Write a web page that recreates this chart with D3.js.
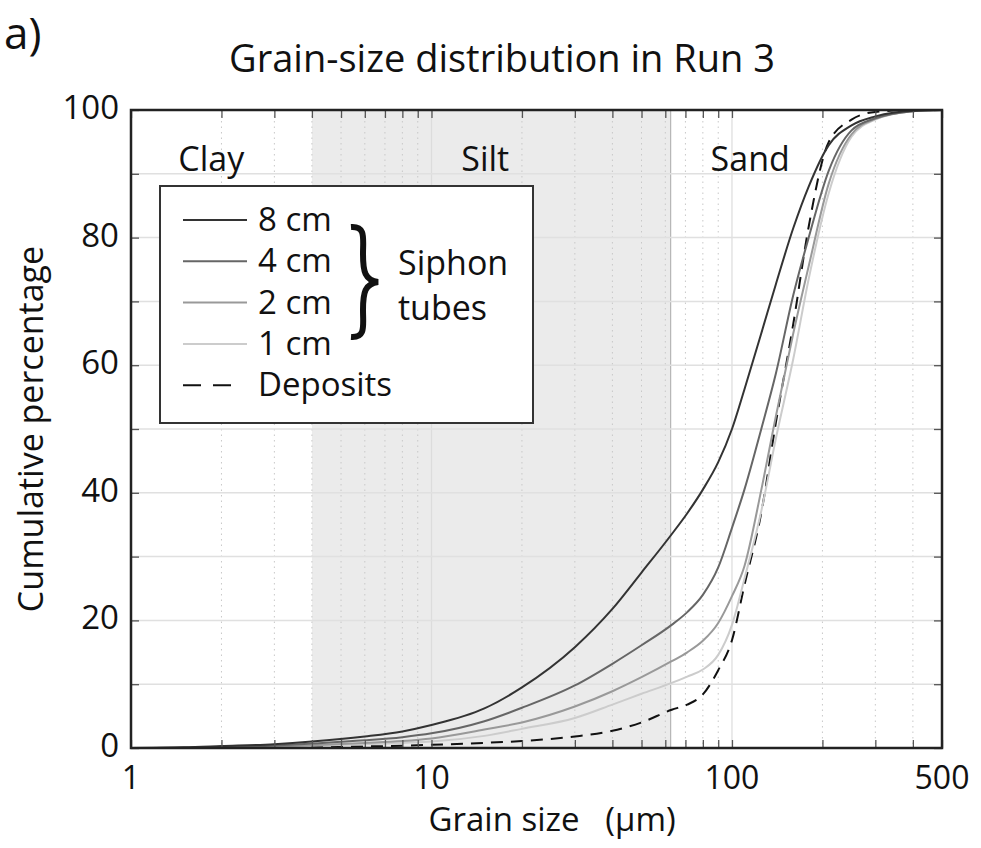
<!DOCTYPE html>
<html>
<head>
<meta charset="utf-8">
<script src="https://cdn.jsdelivr.net/npm/d3@7"></script>
<style>
  body { margin: 0; background: #fff; }
  svg text { font-family: "Open Sans", "Noto Sans", sans-serif; fill: #111; }
</style>
</head>
<body>
<svg id="chart" width="981" height="848"></svg>
<script>
// grain size bins (µm) and cumulative percentages
const sizes    = [1, 1.5, 2, 3, 4, 6, 8, 10, 15, 20, 30, 40, 50, 63, 71, 80, 90, 100, 110, 125, 140, 160, 180, 210, 250, 300, 400, 500];
const tube8cm  = [0, 0.1, 0.3, 0.6, 1.0, 1.8, 2.6, 3.6, 6.2, 9.5, 15.8, 21.8, 27.5, 33.5, 36.8, 40.5, 44.8, 50, 56.2, 64.9, 72.7, 81.5, 88, 94.5, 97.6, 99, 99.9, 100];
const tube4cm  = [0, 0.05, 0.15, 0.4, 0.7, 1.2, 1.7, 2.3, 4.2, 6.3, 9.8, 13.2, 16.1, 19.3, 21.3, 24.0, 28.3, 34.5, 40.5, 49.9, 58.7, 71, 80, 90.5, 96.8, 98.7, 99.8, 100];
const tube2cm  = [0, 0.03, 0.1, 0.25, 0.45, 0.8, 1.1, 1.5, 2.9, 4.0, 6.5, 8.9, 11.1, 13.6, 15.0, 16.8, 19.6, 23.8, 28.5, 40.3, 52, 65, 75.5, 88.5, 96.2, 98.6, 99.8, 100];
const tube1cm  = [0, 0.02, 0.07, 0.2, 0.35, 0.6, 0.8, 1.0, 1.9, 3.0, 4.7, 6.8, 8.5, 10.2, 11.2, 12.3, 14.6, 19.3, 26.5, 37, 48.5, 61, 73.5, 87, 95.8, 98.5, 99.8, 100];
const deposits = [0, 0, 0.05, 0.1, 0.15, 0.25, 0.35, 0.5, 0.8, 1.1, 1.8, 2.7, 4.0, 6.0, 6.8, 8.4, 12.2, 16.9, 25.5, 36.7, 51, 66.5, 81.7, 95, 98.5, 99.7, 100, 100];

const xTickLabels = [1, 10, 100, 500];
const yTickLabels = [0, 20, 40, 60, 80, 100];
const classNames  = ["Clay", "Silt", "Sand"];
const classBounds = [1, 4, 62.5, 500];
const classLabelAt = [1.85, 15.1, 115];
const legendNames = ["8 cm", "4 cm", "2 cm", "1 cm", "Deposits"];

const series = [
  { name: legendNames[0], values: tube8cm,  color: "#333", dash: null },
  { name: legendNames[1], values: tube4cm,  color: "#666", dash: null },
  { name: legendNames[2], values: tube2cm,  color: "#999", dash: null },
  { name: legendNames[3], values: tube1cm,  color: "#ccc", dash: null },
  { name: legendNames[4], values: deposits, color: "#111", dash: "12,8" }
];

let margin = {top: 110, right: 39, bottom: 100, left: 131};
let width = 981 - margin.left - margin.right;
let height = 848 - margin.top - margin.bottom;

let svg = d3.select("#chart");
let g = svg.append("g").attr("transform", `translate(${margin.left},${margin.top})`);

let x = d3.scaleLog().domain([1, 500]).range([0, width]);
let y = d3.scaleLinear().domain([0, 100]).range([height, 0]);

// silt band
g.append("rect")
  .attr("x", x(classBounds[1]))
  .attr("y", 0)
  .attr("width", x(classBounds[2]) - x(classBounds[1]))
  .attr("height", height)
  .attr("fill", "#ebebeb");
g.append("line")
  .attr("x1", x(classBounds[2])).attr("x2", x(classBounds[2]))
  .attr("y1", 0).attr("y2", height)
  .attr("stroke", "#b5b5b5").attr("stroke-width", 1.2);

// grid
let logTicks = [];
[1, 10, 100].forEach(function(dec) {
  for (let k = 1; k <= 9; k++) {
    let v = dec * k;
    if (v <= 500) logTicks.push(v);
  }
});
let minorTicks = logTicks.filter(v => [1, 10, 100].indexOf(v) < 0);

g.append("g").selectAll("line")
  .data(minorTicks)
  .join("line")
  .attr("x1", d => x(d)).attr("x2", d => x(d))
  .attr("y1", 0).attr("y2", height)
  .attr("stroke", "#c8c8c8").attr("stroke-width", 1)
  .attr("stroke-dasharray", "1.5,4");

g.append("g").selectAll("line")
  .data([10, 100])
  .join("line")
  .attr("x1", d => x(d)).attr("x2", d => x(d))
  .attr("y1", 0).attr("y2", height)
  .attr("stroke", "#dcdcdc").attr("stroke-width", 1.2);

g.append("g").selectAll("line")
  .data(d3.range(10, 100, 10))
  .join("line")
  .attr("x1", 0).attr("x2", width)
  .attr("y1", d => y(d)).attr("y2", d => y(d))
  .attr("stroke", "#e0e0e0").attr("stroke-width", 1.5);

// class labels
g.append("g").selectAll("text")
  .data(classNames)
  .join("text")
  .attr("x", (d, i) => x(classLabelAt[i]))
  .attr("y", y(98) + 48)
  .attr("text-anchor", "middle")
  .style("font-size", "34px")
  .text(d => d);

// curves
let line = d3.line()
  .x(function(d) { return x(d[0]); })
  .y(function(d) { return y(d[1]); })
  .curve(d3.curveMonotoneX);

g.append("g").selectAll("path")
  .data(series.slice().reverse())
  .join("path")
  .attr("d", d => line(sizes.map((s, i) => [s, d.values[i]])))
  .attr("fill", "none")
  .attr("stroke", d => d.color)
  .attr("stroke-width", 2)
  .attr("stroke-dasharray", d => d.dash);

// axes: ticks inside on all four sides
let tickLen = 8;
g.append("g").attr("transform", `translate(0,${height})`)
  .call(d3.axisBottom(x).tickValues(logTicks).tickSize(-tickLen).tickFormat(""))
  .call(s => s.select(".domain").remove());
g.append("g")
  .call(d3.axisTop(x).tickValues(logTicks).tickSize(-tickLen).tickFormat(""))
  .call(s => s.select(".domain").remove());
g.append("g")
  .call(d3.axisLeft(y).tickValues(d3.range(0, 101, 10)).tickSize(-tickLen).tickFormat(""))
  .call(s => s.select(".domain").remove());
g.append("g").attr("transform", `translate(${width},0)`)
  .call(d3.axisRight(y).tickValues(d3.range(0, 101, 10)).tickSize(-tickLen).tickFormat(""))
  .call(s => s.select(".domain").remove());
g.selectAll(".tick line").attr("stroke", "#555").attr("stroke-width", 1.3);

g.append("rect")
  .attr("width", width).attr("height", height)
  .attr("fill", "none").attr("stroke", "#222").attr("stroke-width", 2.5);

// tick labels
g.append("g").selectAll("text")
  .data(xTickLabels)
  .join("text")
  .attr("x", d => x(d))
  .attr("y", height + 41)
  .attr("text-anchor", "middle")
  .style("font-size", "32px")
  .text(d => d);

g.append("g").selectAll("text")
  .data(yTickLabels)
  .join("text")
  .attr("x", -12)
  .attr("y", d => y(d) + 9)
  .attr("text-anchor", "end")
  .style("font-size", "33px")
  .text(d => d);

// axis titles
svg.append("text")
  .attr("x", margin.left + x(25.2))
  .attr("y", 831)
  .attr("text-anchor", "middle")
  .style("font-size", "33px")
  .text("Grain size \u00a0 (µm)");

svg.append("text")
  .attr("transform", `translate(43,${margin.top + y(50)}) rotate(-90)`)
  .attr("text-anchor", "middle")
  .style("font-size", "34px")
  .text("Cumulative percentage");

svg.append("text")
  .attr("x", 502).attr("y", 72)
  .attr("text-anchor", "middle")
  .style("font-size", "38px")
  .text("Grain-size distribution in Run 3");

svg.append("text")
  .attr("x", 4).attr("y", 49)
  .style("font-size", "44px")
  .text("a)");

// legend
let legend = svg.append("g").attr("transform", "translate(160,186)");
legend.append("rect")
  .attr("width", 373).attr("height", 237)
  .attr("fill", "#fff").attr("stroke", "#333").attr("stroke-width", 2);

let rows = legend.selectAll("g.row")
  .data(series)
  .join("g")
  .attr("class", "row")
  .attr("transform", (d, i) => `translate(0,${34 + i * 41.3})`);
rows.append("line")
  .attr("x1", 23).attr("x2", d => d.dash ? 83 : 87)
  .attr("y1", 0).attr("y2", 0)
  .attr("stroke", d => d.color)
  .attr("stroke-width", 2)
  .attr("stroke-dasharray", d => d.dash ? "18,12" : null);
rows.append("text")
  .attr("x", 98).attr("y", 11)
  .style("font-size", "33px")
  .text(d => d.name);

legend.append("path")
  .attr("d", "M191,41 C206,40 203,52 203,68 C203,86 205,94 218,96 C205,98 203,106 203,124 C203,140 206,152 191,151")
  .attr("fill", "none").attr("stroke", "#111").attr("stroke-width", 6);

legend.append("text").attr("x", 238).attr("y", 89).style("font-size", "34px").text("Siphon");
legend.append("text").attr("x", 238).attr("y", 134).style("font-size", "34px").text("tubes");
</script>
</body>
</html>
